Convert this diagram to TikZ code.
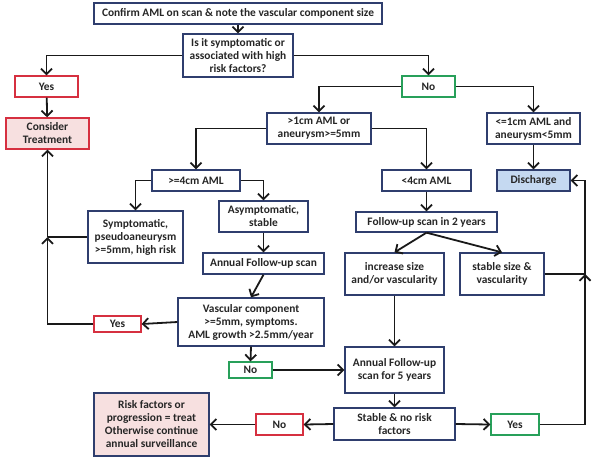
\documentclass[tikz,border=0pt]{standalone}
\usepackage{fontspec}
\setmainfont{Carlito}
\usetikzlibrary{arrows.meta,calc}
\definecolor{navy}{RGB}{47,62,110}
\definecolor{redb}{RGB}{214,48,64}
\definecolor{greenb}{RGB}{40,160,90}
\definecolor{pinkf}{RGB}{247,224,224}
\definecolor{bluef}{RGB}{197,217,241}
\tikzset{
  box/.style={draw=navy, line width=1.3pt, fill=white, align=center, inner sep=0pt,
    font=\bfseries\fontsize{11.4}{13}\selectfont, text=black!85},
  redbox/.style={box, draw=redb},
  greenbox/.style={box, draw=greenb},
  arr/.style={line width=1.8pt, black!90, -{Straight Barb[length=5.5pt,width=11pt,line width=1.8pt]}},
  ln/.style={line width=1.8pt, black!90},
}
\newcommand{\bx}[6]{\node[#1, minimum width=#4pt, minimum height=#5pt] (#2) at (#3) {#6};}
\begin{document}
\begin{tikzpicture}[x=1pt,y=-1pt]
\useasboundingbox (0,0) rectangle (593,459);
\bx{box}{n1}{238,13.5}{288}{21}{Confirm AML on scan \& note the vascular component size}
\bx{box}{n2}{238,55.5}{110}{43}{Is it symptomatic or\\associated with high\\risk factors?}
\bx{redbox}{n3}{46.5,86.5}{63}{21}{Yes}
\bx{redbox,fill=pinkf}{n4}{47.5,133.5}{83}{31}{Consider\\Treatment}
\bx{greenbox}{n5}{428.5,86.5}{53}{21}{No}
\bx{box}{n6}{319,128.5}{104}{31}{>1cm AML or\\aneurysm>=5mm}
\bx{box}{n7}{533.5,128.5}{93}{31}{<=1cm AML and\\aneurysm<5mm}
\bx{box}{n8}{196,180.5}{88}{21}{>=4cm AML}
\bx{box}{n9}{135.5,237}{95}{52}{Symptomatic,\\pseudoaneurysm\\>=5mm, high risk}
\bx{box}{n10}{263.5,216.5}{89}{31}{Asymptomatic,\\stable}
\bx{box}{n11}{263.5,263.5}{121}{21}{Annual Follow-up scan}
\bx{box}{n12}{251,322}{146}{48}{Vascular component\\>=5mm, symptoms.\\AML growth >2.5mm/year}
\bx{redbox}{n13}{117.5,324}{47}{16}{Yes}
\bx{greenbox}{n14}{250.5,370}{43}{16}{No}
\bx{box}{n15}{426.5,180.5}{89}{21}{<4cm AML}
\bx{box,fill=bluef}{n16}{533.5,180.5}{73}{21}{Discharge}
\bx{box}{n17}{426.5,222}{141}{20}{Follow-up scan in 2 years}
\bx{box}{n18}{394.5,274}{99}{42}{increase size\\and/or vascularity}
\bx{box}{n19}{502,274}{84}{42}{stable size \&\\vascularity}
\bx{box}{n20}{394.5,370}{99}{46}{Annual Follow-up\\scan for 5 years}
\bx{box}{n21}{394.5,424}{121}{32}{Stable \& no risk\\factors}
\bx{redbox}{n22}{279.5,424.5}{47}{21}{No}
\bx{greenbox}{n23}{515,424.5}{48}{21}{Yes}
\bx{box,fill=pinkf}{n24}{151.5,424.5}{115}{63}{Risk factors or\\progression = treat\\Otherwise continue\\annual surveillance}

\coordinate (j1) at (n4.south |- n9.west);
\coordinate (j2) at (585,274);

\draw[arr] (n1) -- (n2);
\draw[arr] (n2.west) -| (n3.north);
\draw[arr] (n2.east) -| (n5.north);
\draw[arr] (n3) -- (n4);
\draw[arr] (n5.west) -| (n6.north);
\draw[arr] (n5.east) -| (n7.north);
\draw[arr] (n6.west) -| (n8.north);
\draw[arr] (n6.east) -| (n15.north);
\draw[arr] (n7) -- (n16);
\draw[arr] (n8.west) -| (n9.north);
\draw[arr] (n8.east) -| (n10.north);
\draw[arr] (n10) -- (n11);
\draw[arr] (n11.south) -- (n12.north);
\draw[arr] (n12.west) -- (n13.east);
\draw[arr] (n13.west) -| (j1);
\draw[ln] (n9.west) -- (j1);
\draw[arr] (j1) -- (n4.south);
\draw[arr] (n12.south) -- (n14.north);
\draw[arr] (n14.east) -- (n20.west);
\draw[arr] (n15) -- (n17);
\draw[arr] (n17.south) -- (n18.north);
\draw[arr] (n17.south) -- (n19.north);
\draw[arr] (n18) -- (n20);
\draw[arr] (n20) -- (n21);
\draw[arr] (n21.west) -- (n22.east);
\draw[arr] (n22.west) -- (n24.east);
\draw[arr] (n21.east) -- (n23.west);
\draw[arr] (n23.east) -| (j2);
\draw[arr] (n19.east) -- (j2) |- (n16.east);
\end{tikzpicture}
\end{document}
